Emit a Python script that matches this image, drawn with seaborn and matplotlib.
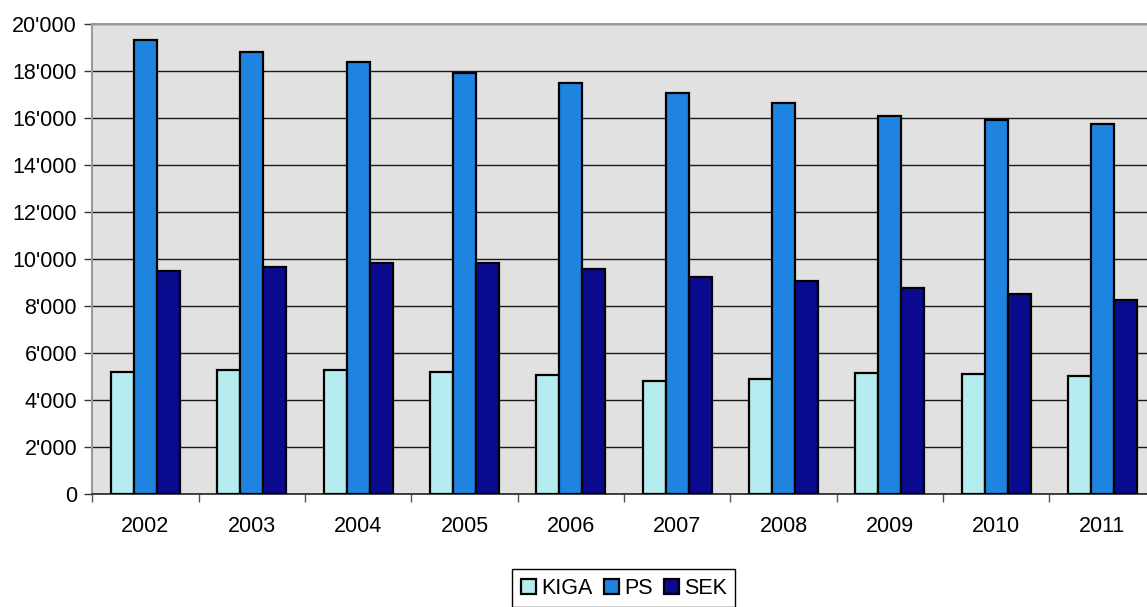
"""
plot.py — grouped bar chart of KIGA / PS / SEK counts, 2002-2011.
"""

import matplotlib
matplotlib.use("Agg")
import matplotlib.pyplot as plt
import matplotlib.ticker as mticker
import pandas as pd
import seaborn as sns


# ──────────────────────────────────────────────────────────────
# Data
# ──────────────────────────────────────────────────────────────

years = ["2002", "2003", "2004", "2005", "2006", "2007", "2008", "2009", "2010", "2011"]
kiga = [5180, 5260, 5260, 5210, 5060, 4800, 4900, 5130, 5100, 5030]
ps = [19320, 18820, 18400, 17930, 17480, 17070, 16630, 16100, 15900, 15750]
sek = [9500, 9650, 9830, 9830, 9570, 9220, 9050, 8780, 8520, 8240]

series_names = ["KIGA", "PS", "SEK"]
series_colors = ["#B4ECEF", "#1F83E0", "#0A0A8E"]
y_ticks = list(range(0, 20001, 2000))


# ──────────────────────────────────────────────────────────────
# Style configuration
# ──────────────────────────────────────────────────────────────

sns.set_style("white")
plt.rcParams["font.family"] = ["Liberation Sans", "DejaVu Sans"]
plt.rcParams["font.size"] = 15.5
plt.rcParams["text.color"] = "black"
plt.rcParams["xtick.labelcolor"] = "black"
plt.rcParams["ytick.labelcolor"] = "black"


df = pd.DataFrame({
    "year": years * 3,
    "series": [s for s in series_names for _ in years],
    "value": kiga + ps + sek,
})

fig = plt.figure(figsize=(11.47, 6.07), dpi=100)
ax = fig.add_axes([0.0805, 0.1862, 0.927, 0.7743])
ax.set_facecolor("#E1E1E1")

sns.barplot(
    data=df,
    x="year",
    y="value",
    hue="series",
    hue_order=series_names,
    order=years,
    palette=series_colors,
    width=0.65,
    gap=0,
    edgecolor="black",
    linewidth=1.6,
    saturation=1,
    errorbar=None,
    ax=ax,
    zorder=3,
)

# Axes, grid, ticks
ax.set_xlim(-0.5, len(years) - 0.5)
ax.set_ylim(0, 20000)
ax.set_yticks(y_ticks)
ax.yaxis.set_major_formatter(
    mticker.FuncFormatter(lambda v, _: f"{int(v):,}".replace(",", "'"))
)
ax.grid(axis="y", color="#1A1A1A", linewidth=1.0, zorder=1)
ax.set_axisbelow(True)

ax.set_xticks(range(len(years)))
ax.set_xticks([i - 0.5 for i in range(len(years) + 1)], minor=True)
ax.tick_params(axis="x", which="major", length=0, pad=16, labelsize=15.5, labelcolor="black")
ax.tick_params(axis="x", which="minor", length=6, width=1, color="#555555", direction="out")
ax.tick_params(axis="y", length=6, width=1, color="#333333", direction="out", pad=5, labelsize=15.5,
               labelcolor="black")
ax.tick_params(left=True, bottom=True, which="both")

ax.set_xlabel("")
ax.set_ylabel("")

for side in ["top", "left"]:
    ax.spines[side].set_color("#9A9A9A")
    ax.spines[side].set_linewidth(1.5)
ax.spines["right"].set_visible(False)
ax.spines["bottom"].set_color("#222222")
ax.spines["bottom"].set_linewidth(1.2)

# Legend below the plot
handles, labels = ax.get_legend_handles_labels()
leg = ax.legend(
    handles,
    labels,
    loc="upper center",
    bbox_to_anchor=(0.5, -0.160),
    ncol=3,
    frameon=True,
    fancybox=False,
    edgecolor="black",
    framealpha=1,
    handlelength=0.7,
    handleheight=0.7,
    handletextpad=0.25,
    columnspacing=0.5,
    borderpad=0.4,
    borderaxespad=0,
    fontsize=15.5,
)
leg.get_frame().set_linewidth(1.0)

fig.savefig("out.png", dpi=100)
